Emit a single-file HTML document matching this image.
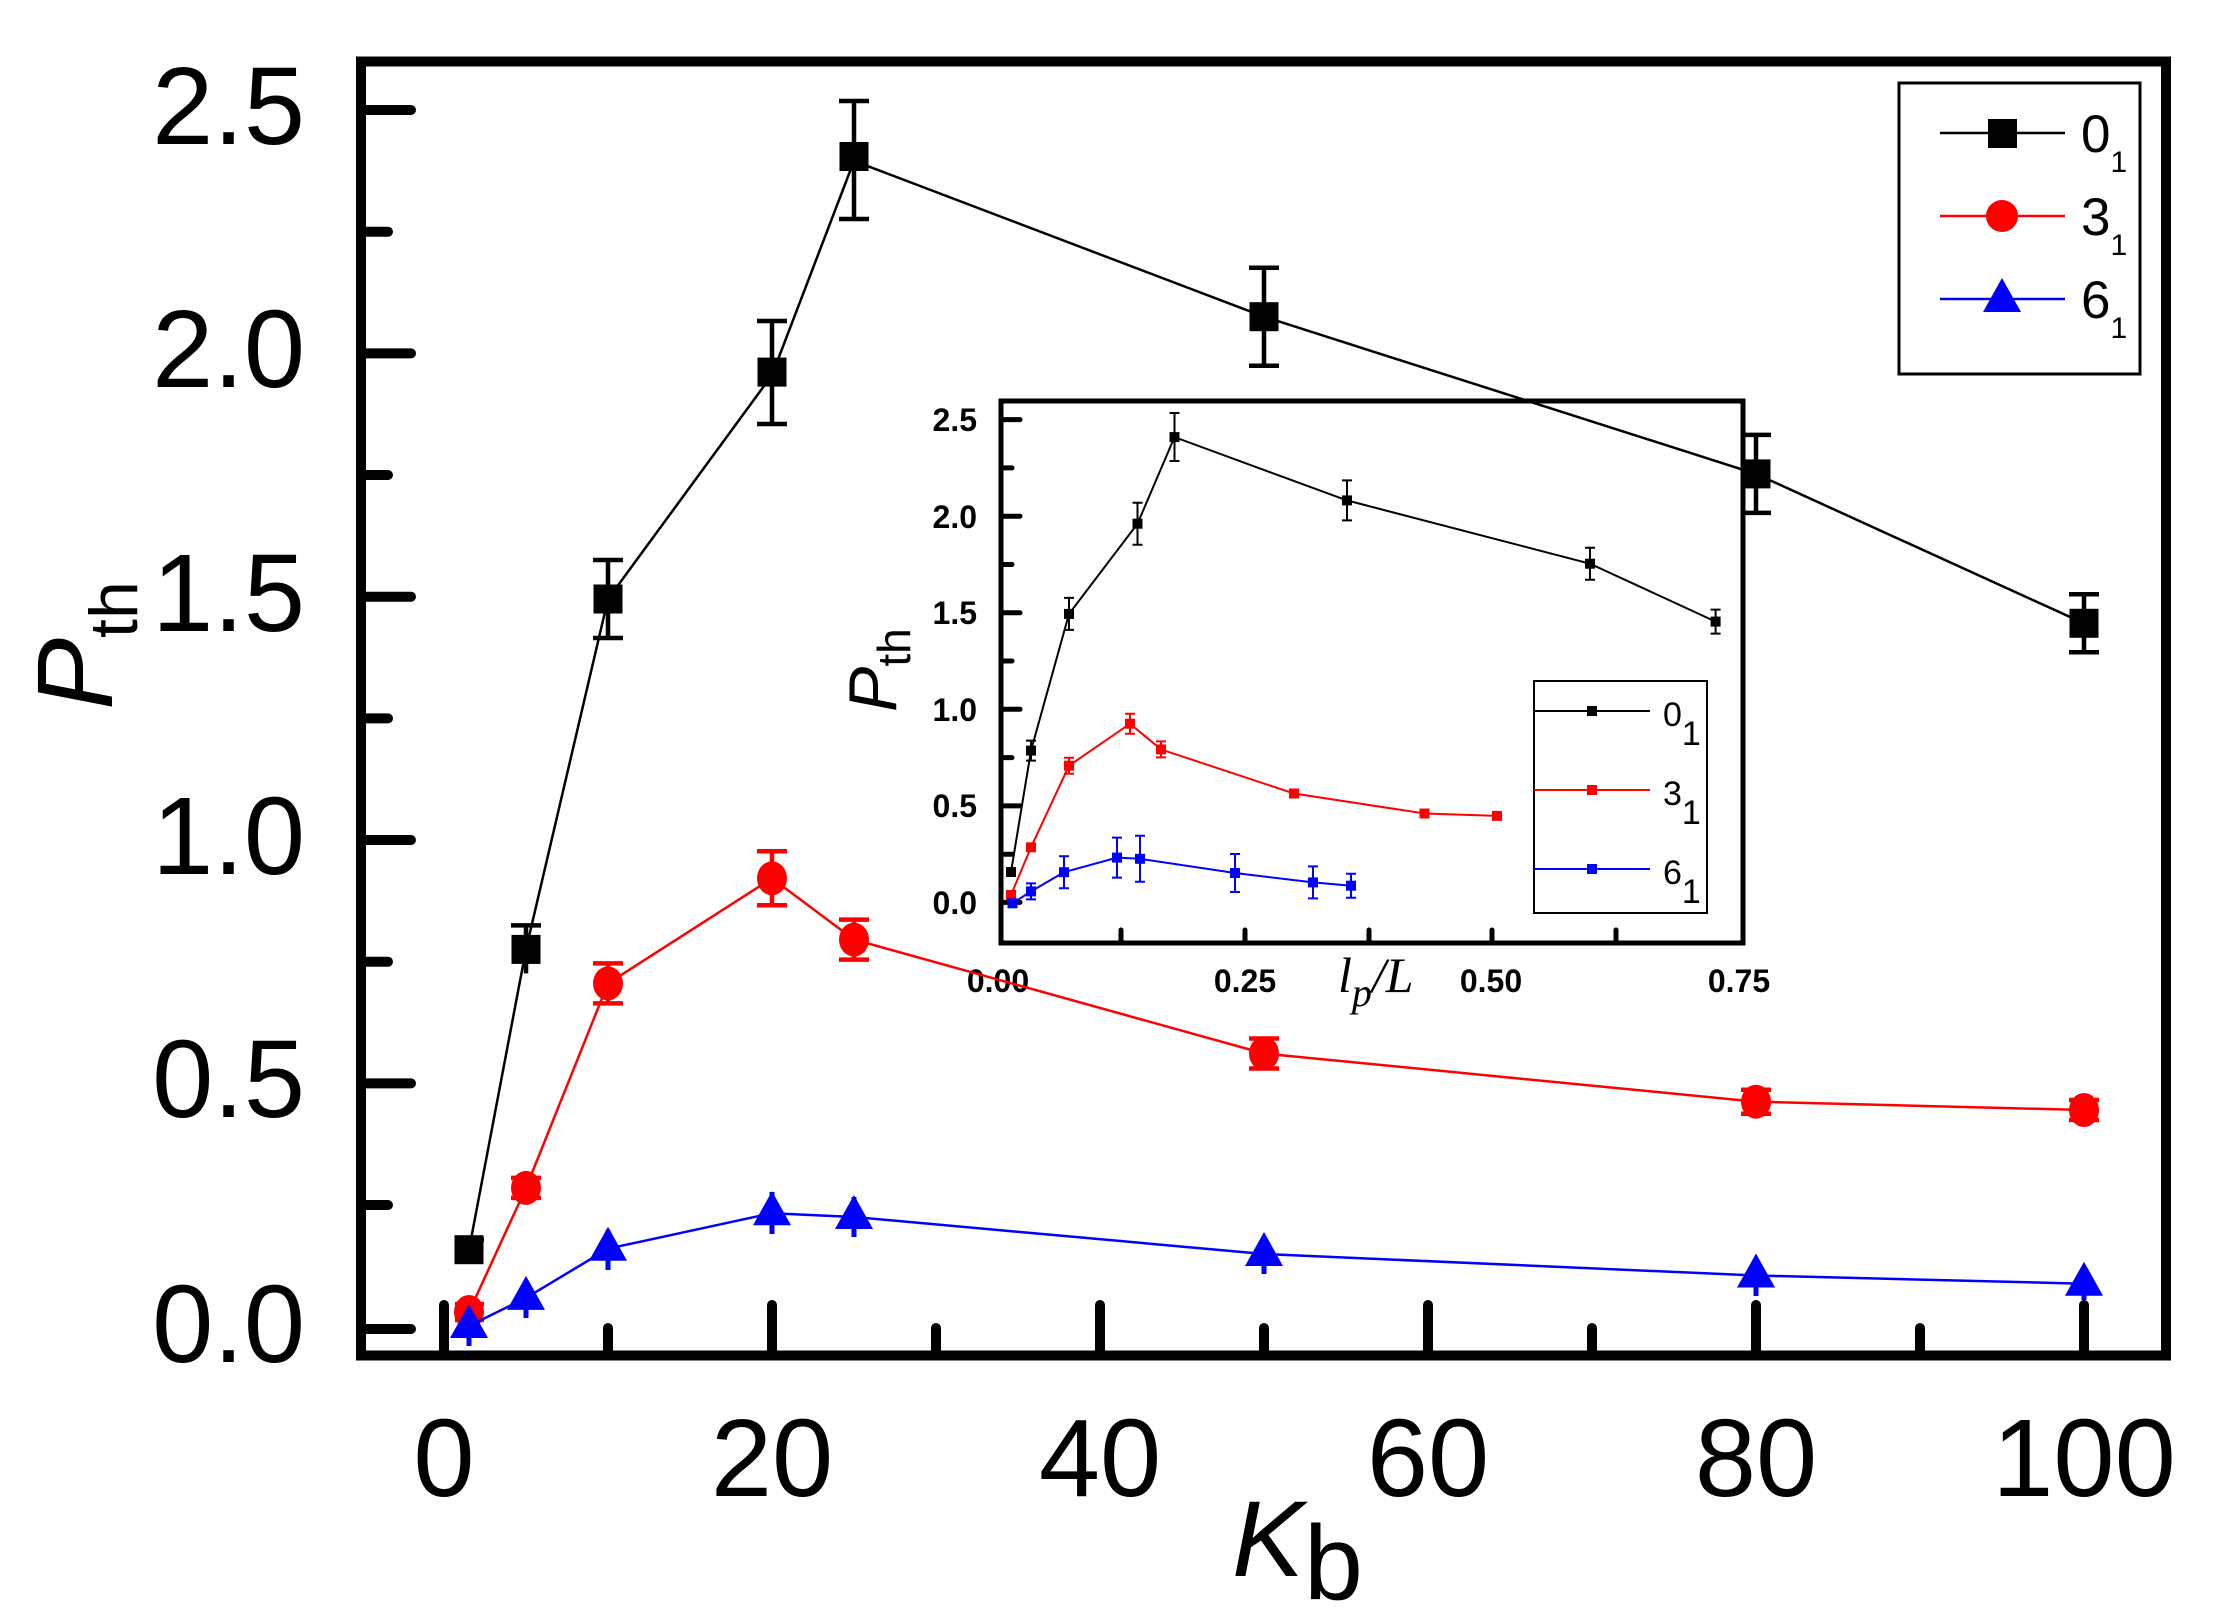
<!DOCTYPE html>
<html><head><meta charset="utf-8"><style>
html,body{margin:0;padding:0;background:#fff;}
svg{display:block;}
text{font-family:"Liberation Sans",sans-serif;}
</style></head><body>
<svg width="2220" height="1622" viewBox="0 0 2220 1622" xmlns="http://www.w3.org/2000/svg">
<rect width="2220" height="1622" fill="#fff"/>

<!-- ===== INSET ===== -->
<g>
<rect x="1001" y="401" width="742" height="542" fill="none" stroke="#000" stroke-width="5"/>
<g stroke="#000" stroke-width="5" stroke-linecap="round">
<line x1="1001" y1="419.6" x2="1020" y2="419.6"/>
<line x1="1001" y1="467.9" x2="1012" y2="467.9"/>
<line x1="1001" y1="516.2" x2="1020" y2="516.2"/>
<line x1="1001" y1="564.5" x2="1012" y2="564.5"/>
<line x1="1001" y1="612.8" x2="1020" y2="612.8"/>
<line x1="1001" y1="661" x2="1012" y2="661"/>
<line x1="1001" y1="709.3" x2="1020" y2="709.3"/>
<line x1="1001" y1="757.6" x2="1012" y2="757.6"/>
<line x1="1001" y1="805.9" x2="1020" y2="805.9"/>
<line x1="1001" y1="854.2" x2="1012" y2="854.2"/>
<line x1="1001" y1="902.4" x2="1020" y2="902.4"/>
<line x1="1121" y1="943" x2="1121" y2="930"/>
<line x1="1245" y1="943" x2="1245" y2="930"/>
<line x1="1369" y1="943" x2="1369" y2="930"/>
<line x1="1492" y1="943" x2="1492" y2="930"/>
<line x1="1616" y1="943" x2="1616" y2="930"/>
</g>
<g font-size="32" font-weight="bold" text-anchor="end">
<text x="977" y="431">2.5</text>
<text x="977" y="528">2.0</text>
<text x="977" y="624">1.5</text>
<text x="977" y="721">1.0</text>
<text x="977" y="817">0.5</text>
<text x="977" y="914">0.0</text>
</g>
<g font-size="32" font-weight="bold" text-anchor="middle">
<text x="998" y="992">0.00</text>
<text x="1245" y="992">0.25</text>
<text x="1491" y="992">0.50</text>
<text x="1739" y="992">0.75</text>
</g>
<text x="1338" y="992" style="font-family:'Liberation Serif',serif;font-style:italic;font-size:50px">l<tspan style="font-size:40px" dy="14">p</tspan><tspan dy="-14">/L</tspan></text>
<text transform="translate(896,712) rotate(-90)" font-size="68" font-style="italic">P<tspan font-style="normal" font-size="46" dy="14">th</tspan></text>

<!-- inset black -->
<g stroke="#000" stroke-width="2" fill="none">
<polyline points="1011,872 1031,750.6 1069,613.9 1137.5,523.7 1174.5,437.1 1347,500.4 1590,563.7 1715.6,621.6"/>
<path d="M1031,740.6V760.6M1069,597.9V629.9M1137.5,502.7V544.7M1174.5,413V461M1347,480.4V520.4M1590,547.7V579.7M1715.6,609.6V633.6
M1026,740.6h10M1026,760.6h10M1064,597.9h10M1064,629.9h10M1132.5,502.7h10M1132.5,544.7h10M1169.5,413h10M1169.5,461h10M1342,480.4h10M1342,520.4h10M1585,547.7h10M1585,579.7h10M1710.6,609.6h10M1710.6,633.6h10"/>
</g>
<g fill="#000">
<rect x="1006" y="867" width="10" height="10"/><rect x="1026" y="745.6" width="10" height="10"/><rect x="1064" y="608.9" width="10" height="10"/><rect x="1132.5" y="518.7" width="10" height="10"/><rect x="1169.5" y="432.1" width="10" height="10"/><rect x="1342" y="495.4" width="10" height="10"/><rect x="1585" y="558.7" width="10" height="10"/><rect x="1710.6" y="616.6" width="10" height="10"/>
</g>
<!-- inset red -->
<g stroke="#f00" stroke-width="2" fill="none">
<polyline points="1011,895 1031,847.3 1069,765.7 1130,723.7 1161,749.4 1294,793.5 1424.5,813.5 1497,815.9"/>
<path d="M1069,757.7V773.7M1130,713.7V733.7M1161,741.4V757.4M1294,788.5V798.5M1064,757.7h10M1064,773.7h10M1125,713.7h10M1125,733.7h10M1156,741.4h10M1156,757.4h10"/>
</g>
<g fill="#f00">
<rect x="1006" y="890" width="10" height="10"/><rect x="1026" y="842.3" width="10" height="10"/><rect x="1064" y="760.7" width="10" height="10"/><rect x="1125" y="718.7" width="10" height="10"/><rect x="1156" y="744.4" width="10" height="10"/><rect x="1289" y="788.5" width="10" height="10"/><rect x="1419.5" y="808.5" width="10" height="10"/><rect x="1492" y="810.9" width="10" height="10"/>
</g>
<!-- inset blue -->
<g stroke="#00f" stroke-width="2" fill="none">
<polyline points="1012.5,903.3 1031,891.4 1064,872.2 1117,857.6 1140,858.8 1235,873 1313,882.4 1351,885.7"/>
<path d="M1031,883.4V899.4M1064,856.2V888.2M1117,837.6V877.6M1140,835.8V881.8M1235,854V892M1313,866.4V898.4M1351,873.7V897.7
M1026,883.4h10M1026,899.4h10M1059,856.2h10M1059,888.2h10M1112,837.6h10M1112,877.6h10M1135,835.8h10M1135,881.8h10M1230,854h10M1230,892h10M1308,866.4h10M1308,898.4h10M1346,873.7h10M1346,897.7h10"/>
</g>
<g fill="#00f">
<rect x="1007.5" y="898.3" width="10" height="10"/><rect x="1026" y="886.4" width="10" height="10"/><rect x="1059" y="867.2" width="10" height="10"/><rect x="1112" y="852.6" width="10" height="10"/><rect x="1135" y="853.8" width="10" height="10"/><rect x="1230" y="868" width="10" height="10"/><rect x="1308" y="877.4" width="10" height="10"/><rect x="1346" y="880.7" width="10" height="10"/>
</g>
<!-- inset legend -->
<rect x="1534" y="681" width="173" height="232" fill="none" stroke="#000" stroke-width="2"/>
<line x1="1534" y1="711" x2="1650" y2="711" stroke="#000" stroke-width="2"/>
<rect x="1587" y="706" width="10" height="10" fill="#000"/>
<line x1="1534" y1="790" x2="1650" y2="790" stroke="#f00" stroke-width="2"/>
<rect x="1587" y="785" width="10" height="10" fill="#f00"/>
<line x1="1534" y1="869" x2="1650" y2="869" stroke="#00f" stroke-width="2"/>
<rect x="1587" y="864" width="10" height="10" fill="#00f"/>
<g font-size="34">
<text x="1663" y="726">0<tspan font-size="34" dy="19">1</tspan></text>
<text x="1663" y="805">3<tspan font-size="34" dy="19">1</tspan></text>
<text x="1663" y="884">6<tspan font-size="34" dy="19">1</tspan></text>
</g>
</g>

<!-- ===== MAIN AXES ===== -->
<rect x="361" y="61.5" width="1805" height="1294" fill="none" stroke="#000" stroke-width="10"/>
<g stroke="#000" stroke-width="10" stroke-linecap="round">
<line x1="366" y1="110" x2="411" y2="110"/>
<line x1="366" y1="231.7" x2="388" y2="231.7"/>
<line x1="366" y1="353.4" x2="411" y2="353.4"/>
<line x1="366" y1="475" x2="388" y2="475"/>
<line x1="366" y1="596.7" x2="411" y2="596.7"/>
<line x1="366" y1="718.4" x2="388" y2="718.4"/>
<line x1="366" y1="840" x2="411" y2="840"/>
<line x1="366" y1="961.7" x2="388" y2="961.7"/>
<line x1="366" y1="1083.4" x2="411" y2="1083.4"/>
<line x1="366" y1="1205" x2="388" y2="1205"/>
<line x1="366" y1="1329" x2="411" y2="1329"/>
<line x1="444" y1="1350" x2="444" y2="1305"/>
<line x1="608" y1="1350" x2="608" y2="1328"/>
<line x1="772" y1="1350" x2="772" y2="1305"/>
<line x1="936" y1="1350" x2="936" y2="1328"/>
<line x1="1100" y1="1350" x2="1100" y2="1305"/>
<line x1="1264" y1="1350" x2="1264" y2="1328"/>
<line x1="1428" y1="1350" x2="1428" y2="1305"/>
<line x1="1592" y1="1350" x2="1592" y2="1328"/>
<line x1="1756" y1="1350" x2="1756" y2="1305"/>
<line x1="1920" y1="1350" x2="1920" y2="1328"/>
<line x1="2084" y1="1350" x2="2084" y2="1305"/>
</g>
<g font-size="110" text-anchor="end">
<text x="305" y="144">2.5</text>
<text x="305" y="387">2.0</text>
<text x="305" y="631">1.5</text>
<text x="305" y="874">1.0</text>
<text x="305" y="1117">0.5</text>
<text x="305" y="1362">0.0</text>
</g>
<g font-size="110" text-anchor="middle">
<text x="444" y="1496">0</text>
<text x="772" y="1496">20</text>
<text x="1100" y="1496">40</text>
<text x="1428" y="1496">60</text>
<text x="1756" y="1496">80</text>
<text x="2084" y="1496">100</text>
</g>
<text x="1232" y="1576" font-size="108" font-style="italic">K<tspan font-style="normal" font-size="106" dy="23">b</tspan></text>
<text transform="translate(112,710) rotate(-90)" font-size="108" font-style="italic">P<tspan font-style="normal" font-size="68" dy="25">th</tspan></text>

<!-- main black -->
<g stroke="#000" fill="none">
<polyline stroke-width="2.5" points="469,1249.7 526,949.4 608,599 772,375.1 854,160.9 1264,316.7 1756,473.9 2084,623.3"/>
<g stroke-width="4.5">
<path d="M469,1239.7V1259.7M526,925.4V973.4M608,560V638M772,321V424M854,101V219M1264,267.7V365.7M1756,434.9V512.9M2084,594.3V652.3"/>
<path d="M455,1239.7h29M511,925.4h30M593,560h30M593,638h30M757,321h30M757,424h30M839,101h30M839,219h30M1249,267.7h30M1249,365.7h30M1741,434.9h30M1741,512.9h30M2069,594.3h30M2069,652.3h30"/>
</g>
</g>
<g fill="#000">
<rect x="454.5" y="1235.2" width="29" height="29"/><rect x="511.5" y="934.9" width="29" height="29"/><rect x="593.5" y="584.5" width="29" height="29"/><rect x="757.5" y="357.6" width="29" height="29"/><rect x="839.5" y="142" width="29" height="29"/><rect x="1249.5" y="302.2" width="29" height="29"/><rect x="1741.5" y="459.4" width="29" height="29"/><rect x="2069.5" y="608.8" width="29" height="29"/>
</g>
<!-- main red -->
<g stroke="#f00" fill="none">
<polyline stroke-width="2.5" points="469,1312 526,1187.9 608,983.4 772,878.3 854,939.6 1264,1053.5 1756,1101.7 2084,1110"/>
<g stroke-width="4.5">
<path d="M469,1304V1320M526,1177.9V1197.9M608,963.4V1003.4M772,851.3V905.3M854,919.6V959.6M1264,1038.5V1068.5M1756,1089.7V1113.7M2084,1100V1120"/>
<path d="M455,1304h29M455,1320h29M511,1177.9h30M511,1197.9h30M593,963.4h30M593,1003.4h30M757,851.3h30M757,905.3h30M839,919.6h30M839,959.6h30M1249,1038.5h30M1249,1068.5h30M1741,1089.7h30M1741,1113.7h30M2069,1100h30M2069,1120h30"/>
</g>
</g>
<g fill="#f00">
<ellipse cx="469" cy="1312" rx="15" ry="17"/><ellipse cx="526" cy="1187.9" rx="15" ry="17"/><ellipse cx="608" cy="983.4" rx="15" ry="17"/><ellipse cx="772" cy="878.3" rx="15" ry="17"/><ellipse cx="854" cy="939.6" rx="15" ry="17"/><ellipse cx="1264" cy="1053.5" rx="15" ry="17"/><ellipse cx="1756" cy="1101.7" rx="15" ry="17"/><ellipse cx="2084" cy="1110" rx="15" ry="17"/>
</g>
<!-- main blue -->
<g stroke="#00f" fill="none">
<polyline stroke-width="2.5" points="469,1326 526,1297.9 608,1248.7 772,1213.2 854,1217 1264,1254 1756,1275.5 2084,1283.7"/>
<path stroke-width="5" d="M469,1310V1346M526,1280V1318M608,1230V1270M772,1192V1234M854,1197V1237M1264,1236V1274M1756,1258V1296M2084,1268V1300"/>
</g>
<g fill="#00f">
<polygon points="469,1304 450,1338 488,1338"/>
<polygon points="526,1275.9 507,1309.9 545,1309.9"/>
<polygon points="608,1226.7 589,1260.7 627,1260.7"/>
<polygon points="772,1191.2 753,1225.2 791,1225.2"/>
<polygon points="854,1195 835,1229 873,1229"/>
<polygon points="1264,1232 1245,1266 1283,1266"/>
<polygon points="1756,1253.5 1737,1287.5 1775,1287.5"/>
<polygon points="2084,1261.7 2065,1295.7 2103,1295.7"/>
</g>

<!-- main legend -->
<rect x="1899" y="83" width="241" height="291" fill="#fff" stroke="#000" stroke-width="3"/>
<line x1="1940" y1="133" x2="2065" y2="133" stroke="#000" stroke-width="2.5"/>
<rect x="1988" y="119" width="29" height="29" fill="#000"/>
<line x1="1940" y1="216" x2="2065" y2="216" stroke="#f00" stroke-width="2.5"/>
<ellipse cx="2002" cy="216" rx="16" ry="16" fill="#f00"/>
<line x1="1940" y1="299" x2="2065" y2="299" stroke="#00f" stroke-width="2.5"/>
<polygon points="2002,278 1983,312 2021,312" fill="#00f"/>
<g font-size="53">
<text x="2081" y="152">0<tspan font-size="30" dy="20">1</tspan></text>
<text x="2081" y="235">3<tspan font-size="30" dy="20">1</tspan></text>
<text x="2081" y="318">6<tspan font-size="30" dy="20">1</tspan></text>
</g>
</svg>
</body></html>
